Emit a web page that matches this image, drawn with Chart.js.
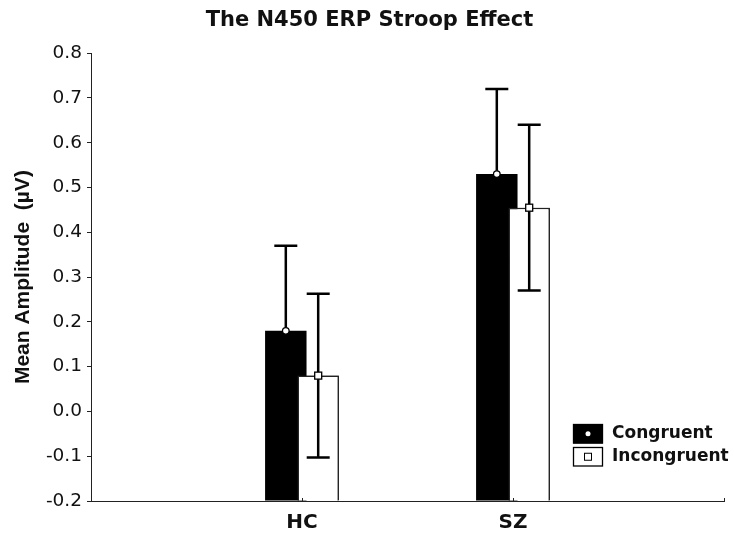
<!DOCTYPE html>
<html>
<head>
<meta charset="utf-8">
<title>The N450 ERP Stroop Effect</title>
<script src="https://cdn.jsdelivr.net/npm/chart.js@4.4.1/dist/chart.umd.min.js"></script>
<style>
  html, body { margin: 0; padding: 0; background: #fff; }
  #n450Chart { display: block; }
</style>
</head>
<body>
<canvas id="n450Chart" width="734" height="535"></canvas>
<script>
// groups and condition means (µV)
const groups = ['HC', 'SZ'];
const congruent = [0.18, 0.53];
const incongruent = [0.08, 0.455];
// error bar half-lengths
const congruentErr = [0.19, 0.19];
const incongruentErr = [0.183, 0.185];
// value axis
const yMin = -0.2;
const yMax = 0.8;
const yStep = 0.1;

// one empty slot on each side of the two groups
const axisLabels = [''].concat(groups, ['']);
const pad = arr => [null].concat(arr, [null]);

const ink = '#111';

// whiskers and the small markers sitting on top of each bar
const errorBars = {
  id: 'errorBars',
  afterDatasetsDraw(chart) {
    const ctx = chart.ctx;
    const y = chart.scales.y;
    const area = chart.chartArea;

    // chart.js paints the first dataset last; put the white bars back on top
    ctx.save();
    ctx.beginPath();
    ctx.rect(area.left, area.top, area.right - area.left, area.bottom - area.top);
    ctx.clip();
    chart.getDatasetMeta(1).data.forEach(bar => bar.draw(ctx, area));
    ctx.restore();

    chart.data.datasets.forEach((ds, i) => {
      const meta = chart.getDatasetMeta(i);
      meta.data.forEach((bar, j) => {
        const v = ds.data[j];
        if (v == null) return;
        const e = ds.errors[j];
        const x = bar.x;
        const yHi = y.getPixelForValue(v + e);
        const yLo = y.getPixelForValue(v - e);
        ctx.save();
        ctx.strokeStyle = '#000';
        ctx.lineWidth = 2.5;
        ctx.beginPath();
        ctx.moveTo(x, yHi);
        ctx.lineTo(x, yLo);
        ctx.moveTo(x - 11.5, yHi);
        ctx.lineTo(x + 11.5, yHi);
        ctx.moveTo(x - 11.5, yLo);
        ctx.lineTo(x + 11.5, yLo);
        ctx.stroke();
        // marker at the mean
        const ym = y.getPixelForValue(v);
        ctx.fillStyle = '#fff';
        ctx.lineWidth = 1.3;
        if (ds.marker === 'circle') {
          ctx.beginPath();
          ctx.arc(x, ym, 3.3, 0, Math.PI * 2);
          ctx.fill();
          ctx.stroke();
        } else {
          ctx.fillRect(x - 3.5, ym - 3.5, 7, 7);
          ctx.strokeRect(x - 3.5, ym - 3.5, 7, 7);
        }
        ctx.restore();
      });
    });
  }
};

// short tick marks pointing up into the plot on the category axis
const innerTicks = {
  id: 'innerTicks',
  afterDraw(chart) {
    const ctx = chart.ctx;
    const xs = chart.scales.x;
    ctx.save();
    ctx.strokeStyle = '#222';
    ctx.lineWidth = 1;
    for (let i = 1; i < xs.ticks.length; i++) {
      const px = Math.round(xs.getPixelForTick(i)) + 0.5;
      ctx.beginPath();
      ctx.moveTo(px, xs.top);
      ctx.lineTo(px, xs.top - 3);
      ctx.stroke();
    }
    ctx.restore();
  }
};

// boxed legend in the lower right corner of the plot
const boxLegend = {
  id: 'boxLegend',
  afterDraw(chart) {
    const ctx = chart.ctx;
    const area = chart.chartArea;
    const left = area.right - 151;
    let top = area.bottom - 77;
    ctx.save();
    ctx.font = 'bold 17px "DejaVu Sans"';
    ctx.textBaseline = 'middle';
    chart.data.datasets.forEach(ds => {
      const w = 30, h = 19.5;
      const cx = left + w / 2, cy = top + h / 2;
      ctx.fillStyle = ds.backgroundColor;
      ctx.fillRect(left, top, w, h);
      ctx.strokeStyle = '#000';
      ctx.lineWidth = 1.3;
      ctx.strokeRect(left + 0.5, top + 0.5, w - 1, h - 1);
      ctx.fillStyle = '#fff';
      if (ds.marker === 'circle') {
        ctx.beginPath();
        ctx.arc(cx, cy, 2.5, 0, Math.PI * 2);
        ctx.fill();
      } else {
        ctx.lineWidth = 1;
        ctx.fillRect(cx - 3.5, cy - 3.5, 7, 7);
        ctx.strokeRect(cx - 3.5, cy - 3.5, 7, 7);
      }
      ctx.fillStyle = ink;
      ctx.fillText(ds.label, left + 39, cy);
      top += 23;
    });
    ctx.restore();
  }
};

new Chart(document.getElementById('n450Chart'), {
  type: 'bar',
  data: {
    labels: axisLabels,
    datasets: [
      {
        label: 'Congruent',
        data: pad(congruent),
        errors: pad(congruentErr),
        marker: 'circle',
        backgroundColor: '#000',
        borderWidth: 0,
        base: yMin,
        categoryPercentage: 0.307,
        barPercentage: 1.28
      },
      {
        label: 'Incongruent',
        data: pad(incongruent),
        errors: pad(incongruentErr),
        marker: 'square',
        backgroundColor: '#fff',
        borderColor: '#222',
        borderWidth: 1.5,
        base: yMin,
        categoryPercentage: 0.307,
        barPercentage: 1.28
      }
    ]
  },
  options: {
    responsive: false,
    animation: false,
    devicePixelRatio: 1,
    layout: { padding: { left: 14, right: 9, top: 0, bottom: 0 } },
    plugins: {
      legend: { display: false },
      tooltip: { enabled: false },
      title: {
        display: true,
        text: 'The N450 ERP Stroop Effect',
        color: ink,
        font: { family: '"DejaVu Sans"', size: 21, weight: 'bold' },
        padding: { top: 7.5, bottom: 20.5 }
      }
    },
    scales: {
      x: {
        offset: false,
        grid: { display: true, drawOnChartArea: false, drawTicks: false },
        border: { display: true, color: '#222', width: 1 },
        ticks: {
          color: ink,
          autoSkip: false,
          maxRotation: 0,
          padding: 10,
          font: { family: '"DejaVu Sans"', size: 20, weight: 'bold' }
        },
        afterFit(scale) { scale.height = 34; }
      },
      y: {
        min: yMin,
        max: yMax,
        grid: { drawOnChartArea: false, drawTicks: true, tickLength: 4, color: '#222' },
        border: { display: true, color: '#222', width: 1 },
        ticks: {
          stepSize: yStep,
          color: ink,
          padding: 5,
          font: { family: '"DejaVu Sans"', size: 18.5 },
          callback: v => (Math.abs(v) < 1e-9 ? 0 : v).toFixed(1)
        },
        title: {
          display: true,
          text: 'Mean Amplitude  (µV)',
          color: ink,
          font: { family: '"Liberation Sans"', size: 21, weight: 'bold' },
          padding: { top: -3.6, bottom: 0 }
        },
        afterFit(scale) { scale.width = 77; }
      }
    }
  },
  plugins: [errorBars, innerTicks, boxLegend]
});
</script>
</body>
</html>
